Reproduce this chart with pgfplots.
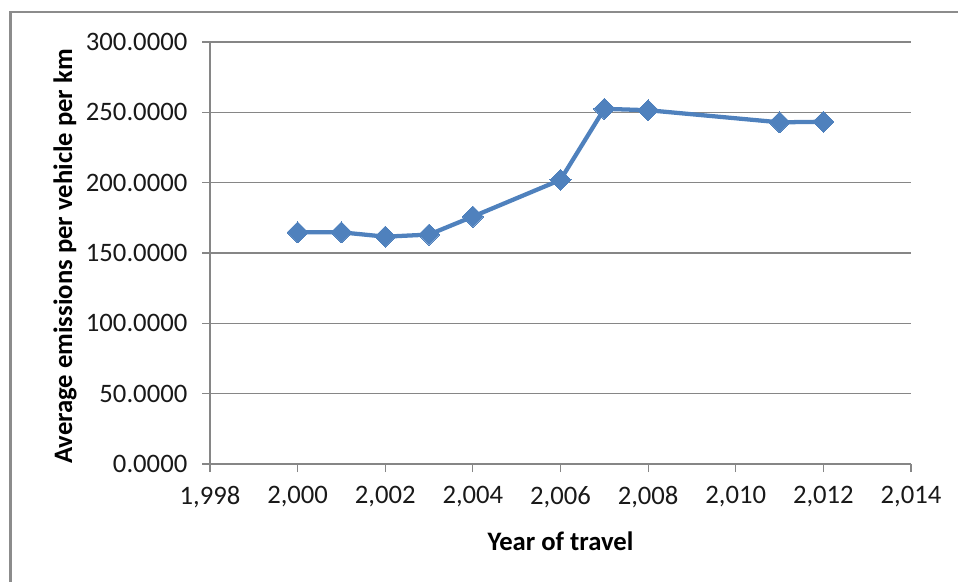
\documentclass[border=0pt]{standalone}
\usepackage{pgfplots}
\pgfplotsset{compat=1.18}
\usepackage{fontspec}
\setmainfont{Carlito}
\definecolor{seriesblue}{HTML}{4F81BD}
\definecolor{gridgray}{HTML}{868686}
\definecolor{framegray}{HTML}{8C8C8C}
\begin{document}
\begin{tikzpicture}[x=1pt,y=1pt]
% page extent and chart frame (left and top edges)
\path[use as bounding box] (0,0) rectangle (718.5,436.5);
\draw[framegray, line width=1.6pt] (7.9,0) -- (7.9,427.5) -- (718.5,427.5);
\begin{axis}[
  at={(157.5pt,88.5pt)}, anchor=south west,
  scale only axis, width=525.75pt, height=316.5pt,
  xmin=1998, xmax=2014, ymin=0, ymax=300,
  xtick={1998,2000,...,2014},
  ytick={0,50,...,300},
  axis x line*=bottom, axis y line*=left,
  x axis line style={gridgray, line width=1.5pt},
  y axis line style={gridgray, line width=0.8pt},
  tick align=outside, major tick length=6pt,
  tick style={gridgray, line width=0.8pt},
  ymajorgrids, grid style={gridgray, line width=0.8pt},
  font=\fontsize{20}{22}\selectfont,
  tick label style={black!90},
  xticklabel style={yshift=-7pt, /pgf/number format/1000 sep={,}},
  yticklabel style={xshift=-7.5pt, /pgf/number format/.cd, fixed, fixed zerofill, precision=4},
  /pgf/number format/assume math mode=true,
  xlabel={\textbf{Year of travel}},
  ylabel={\textbf{Average emissions per vehicle per km}},
  label style={font=\fontsize{20}{22}\selectfont\bfseries},
  xlabel style={at={(axis description cs:0.5,-0.1825)}, anchor=center},
  ylabel style={at={(axis description cs:-0.2069,0.4918)}, anchor=center},
  clip=false,
]
\addplot[seriesblue, line width=3.2pt, mark=square*, mark size=5.6pt,
  mark options={rotate=45, solid, line width=0pt, fill=seriesblue}]
  coordinates {
    (2000,164.7) (2001,164.7) (2002,161.6) (2003,163.1) (2004,175.9)
    (2006,202.0) (2007,252.5) (2008,251.5) (2011,242.9) (2012,243.3)
  };
\end{axis}
\end{tikzpicture}
\end{document}
